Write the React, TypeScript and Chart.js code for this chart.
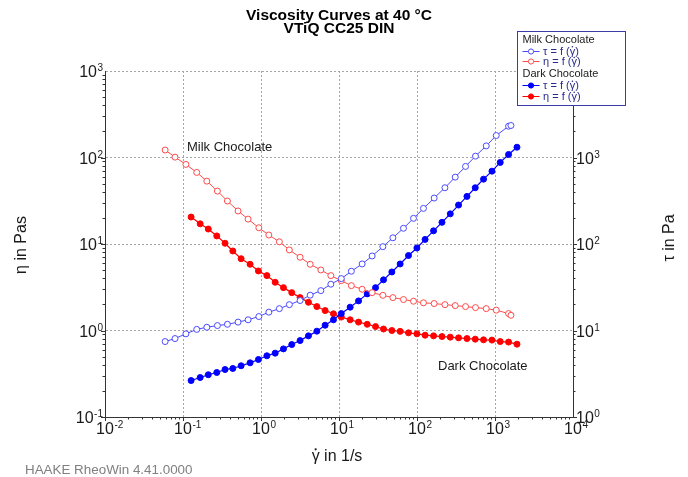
import React, { useEffect, useRef } from "react";
import { Chart, registerables } from "chart.js";

Chart.register(...registerables);

const FONT = '"Liberation Sans", Arial, Helvetica, sans-serif';

// ---- Data ----
const milkShear = [0.059, 0.079, 0.109, 0.150, 0.202, 0.276, 0.371, 0.508, 0.683, 0.938, 1.26, 1.72, 2.31, 3.17, 4.27, 5.85, 7.86, 10.7, 14.4, 19.8, 26.6, 36.5, 49.1, 67.1, 90.2, 121, 166, 228, 309, 419, 562, 772, 1038, 1493, 1602];
const milkTau = [7.45, 8.07, 9.15, 10.3, 10.9, 11.4, 11.8, 12.5, 13.3, 14.5, 16.3, 17.9, 19.9, 22.2, 25.6, 28.9, 34.3, 39.8, 48.4, 58.8, 72.7, 93.1, 118, 152, 198, 258, 340, 447, 593, 788, 1037, 1363, 1795, 2300, 2344];
const milkEta = [122, 101, 83.2, 67.2, 53.3, 40.9, 31.4, 24.1, 19.4, 15.4, 12.7, 10.6, 8.54, 7.03, 5.83, 5.01, 4.31, 3.77, 3.30, 3.00, 2.74, 2.55, 2.40, 2.28, 2.18, 2.09, 2.05, 1.99, 1.94, 1.89, 1.84, 1.79, 1.72, 1.57, 1.50];

const darkShear = [0.127, 0.166, 0.211, 0.271, 0.346, 0.435, 0.556, 0.725, 0.927, 1.19, 1.52, 1.94, 2.48, 3.17, 4.06, 5.20, 6.64, 8.49, 10.7, 13.9, 17.8, 23.0, 29.4, 37.2, 47.6, 60.8, 77.8, 99.7, 127, 163, 209, 267, 341, 437, 558, 713, 914, 1167, 1493, 1913];
const darkTau = [2.64, 2.86, 3.08, 3.27, 3.54, 3.64, 3.91, 4.23, 4.62, 5.10, 5.47, 6.13, 6.88, 7.65, 8.67, 9.82, 11.5, 13.3, 15.7, 18.6, 22.0, 26.5, 31.3, 38.5, 47.5, 58.8, 73.6, 89.9, 113, 142, 178, 223, 282, 355, 447, 562, 695, 877, 1084, 1315];
const darkEta = [20.5, 17.1, 14.9, 12.4, 10.2, 8.30, 6.76, 5.83, 4.88, 4.31, 3.61, 3.13, 2.74, 2.40, 2.12, 1.89, 1.70, 1.56, 1.43, 1.33, 1.25, 1.18, 1.11, 1.04, 1.00, 0.977, 0.940, 0.915, 0.883, 0.867, 0.851, 0.838, 0.822, 0.807, 0.794, 0.780, 0.774, 0.745, 0.735, 0.695];

// Axis decades (tick labels are 10^exp)
const xExps = [-2, -1, 0, 1, 2, 3, 4];
const yLeftExps = [-1, 0, 1, 2, 3];
const yRightExps = [0, 1, 2, 3, 4];

const titleLines = ["Viscosity Curves at 40 \u00B0C", "VTiQ CC25 DIN"];
// gamma is drawn with a dot above it (shear rate symbol)
const xTitle = "\u03B3 in 1/s";
const yLeftTitle = "\u03B7 in Pas";
const yRightTitle = "\u03C4 in Pa";
const footer = "HAAKE RheoWin 4.41.0000";
const legendGroups = ["Milk Chocolate", "Dark Chocolate"];
const legendEntries = ["\u03C4 = f (\u03B3)", "\u03B7 = f (\u03B3)"];

const MILK_BLUE = "#4a4aff";
const MILK_RED = "#ff4a4a";
const DARK_BLUE = "#0000ff";
const DARK_RED = "#ff0000";

const toXY = (xs: number[], ys: number[]) => xs.map((x, i) => ({ x, y: ys[i] }));

function drawPow(ctx: CanvasRenderingContext2D, exp: string, x: number, y: number, align: "center" | "right" | "left") {
  ctx.font = `16px ${FONT}`;
  const w10 = ctx.measureText("10").width;
  ctx.font = `10px ${FONT}`;
  const we = ctx.measureText(exp).width;
  let x0 = x;
  if (align === "center") x0 = x - w10 / 2;
  else if (align === "right") x0 = x - w10 - we - 0.5;
  ctx.textAlign = "left";
  ctx.textBaseline = "alphabetic";
  ctx.font = `16px ${FONT}`;
  ctx.fillText("10", x0, y);
  ctx.font = `10px ${FONT}`;
  ctx.fillText(exp, x0 + w10 + 0.5, y - 6);
}

// text with a dot placed over the gamma (γ̇), baseline alphabetic
function fillGD(ctx: CanvasRenderingContext2D, text: string, x: number, y: number, size: number, align: "left" | "center") {
  ctx.font = `${size}px ${FONT}`;
  const w = ctx.measureText(text).width;
  const x0 = align === "center" ? x - w / 2 : x;
  ctx.textAlign = "left";
  ctx.textBaseline = "alphabetic";
  ctx.fillText(text, x0, y);
  const i = text.indexOf("\u03B3");
  if (i >= 0) {
    const pre = ctx.measureText(text.slice(0, i)).width;
    const gw = ctx.measureText("\u03B3").width;
    ctx.beginPath();
    ctx.arc(x0 + pre + gw / 2, y - size * 0.7, Math.max(0.8, size * 0.07), 0, Math.PI * 2);
    ctx.fill();
  }
}

const decorPlugin = {
  id: "decor",
  afterDraw(chart: any) {
    const ctx: CanvasRenderingContext2D = chart.ctx;
    const area = chart.chartArea;
    const xs = chart.scales.x;
    const yl = chart.scales.y;
    const yr = chart.scales.y1;
    ctx.save();

    // minor ticks
    ctx.strokeStyle = "#333";
    ctx.lineWidth = 1;
    ctx.beginPath();
    for (let e = -2; e < 4; e++) {
      for (let m = 1; m <= 9; m++) {
        const px = Math.round(xs.getPixelForValue(m * Math.pow(10, e))) + 0.5;
        const len = m === 1 ? 4 : 2.5;
        ctx.moveTo(px, area.bottom);
        ctx.lineTo(px, area.bottom + len);
      }
    }
    for (let e = -1; e < 3; e++) {
      for (let m = 1; m <= 9; m++) {
        const py = Math.round(yl.getPixelForValue(m * Math.pow(10, e))) + 0.5;
        const len = m === 1 ? 4 : 2.5;
        ctx.moveTo(area.left, py);
        ctx.lineTo(area.left - len, py);
      }
    }
    for (let e = 0; e < 4; e++) {
      for (let m = 1; m <= 9; m++) {
        const py = Math.round(yr.getPixelForValue(m * Math.pow(10, e))) + 0.5;
        const len = m === 1 ? 4 : 2.5;
        ctx.moveTo(area.right, py);
        ctx.lineTo(area.right + len, py);
      }
    }
    ctx.stroke();

    // tick labels
    ctx.fillStyle = "#1a1a1a";
    xExps.forEach((e) => {
      drawPow(ctx, String(e), xs.getPixelForValue(Math.pow(10, e)), area.bottom + 17, "center");
    });
    yLeftExps.forEach((e) => {
      drawPow(ctx, String(e), area.left - 2, yl.getPixelForValue(Math.pow(10, e)) + 6, "right");
    });
    yRightExps.forEach((e) => {
      drawPow(ctx, String(e), area.right + 3, yr.getPixelForValue(Math.pow(10, e)) + 6, "left");
    });

    // titles
    ctx.fillStyle = "#000";
    ctx.textAlign = "center";
    ctx.textBaseline = "alphabetic";
    ctx.font = `bold 15.5px ${FONT}`;
    ctx.fillText(titleLines[0], 339, 20);
    ctx.fillText(titleLines[1], 339, 32.7);

    ctx.fillStyle = "#1a1a1a";
    fillGD(ctx, xTitle, 337, 460.5, 16, "center");

    ctx.font = `16px ${FONT}`;
    ctx.textAlign = "center";
    ctx.textBaseline = "middle";
    ctx.save();
    ctx.translate(22, 245);
    ctx.rotate(-Math.PI / 2);
    ctx.fillText(yLeftTitle, 0, 0);
    ctx.restore();

    ctx.save();
    ctx.translate(670, 238);
    ctx.rotate(-Math.PI / 2);
    ctx.fillText(yRightTitle, 0, 0);
    ctx.restore();

    // footer
    ctx.textAlign = "left";
    ctx.textBaseline = "alphabetic";
    ctx.fillStyle = "#808080";
    ctx.font = `13.4px ${FONT}`;
    ctx.fillText(footer, 25, 474);

    // annotations
    ctx.fillStyle = "#1a1a1a";
    ctx.font = `13px ${FONT}`;
    ctx.fillText(legendGroups[0], 187, 150.5);
    ctx.fillText(legendGroups[1], 438, 369.5);

    // legend box
    const bx = 517, by = 31, bw = 108, bh = 74;
    ctx.fillStyle = "#fff";
    ctx.fillRect(bx, by, bw, bh);
    ctx.strokeStyle = "#3c3ca8";
    ctx.lineWidth = 1;
    ctx.strokeRect(bx + 0.5, by + 0.5, bw, bh);

    const rows = [
      { type: "h", text: legendGroups[0], y: 38.8 },
      { type: "e", text: legendEntries[0], y: 50.5, color: MILK_BLUE, fill: false },
      { type: "e", text: legendEntries[1], y: 61.2, color: MILK_RED, fill: false },
      { type: "h", text: legendGroups[1], y: 72.7 },
      { type: "e", text: legendEntries[0], y: 85, color: DARK_BLUE, fill: true },
      { type: "e", text: legendEntries[1], y: 96, color: DARK_RED, fill: true },
    ];
    rows.forEach((r: any) => {
      if (r.type === "h") {
        ctx.fillStyle = "#1a1a1a";
        ctx.font = `11px ${FONT}`;
        ctx.textAlign = "left";
        ctx.textBaseline = "alphabetic";
        ctx.fillText(r.text, 522.5, r.y + 4);
      } else {
        ctx.strokeStyle = r.color;
        ctx.lineWidth = 1;
        ctx.beginPath();
        ctx.moveTo(522.5, Math.round(r.y) + 0.5);
        ctx.lineTo(539.5, Math.round(r.y) + 0.5);
        ctx.stroke();
        ctx.beginPath();
        ctx.arc(531, Math.round(r.y) + 0.5, 2.6, 0, Math.PI * 2);
        ctx.fillStyle = r.fill ? r.color : "#fff";
        ctx.fill();
        ctx.stroke();
        ctx.fillStyle = "#2a2a8f";
        fillGD(ctx, r.text, 543, r.y + 4, 11, "left");
      }
    });

    ctx.restore();
  },
};

const decadeTicks = (exps: number[]) => (scale: any) => {
  scale.ticks = exps.map((e) => ({ value: Math.pow(10, e), major: true }));
};

export default function App() {
  const ref = useRef<HTMLCanvasElement | null>(null);

  useEffect(() => {
    document.body.style.margin = "0";
    const canvas = ref.current;
    if (!canvas) return;
    const gridCommon = {
      color: "#a6a6a6",
      lineWidth: 1,
      drawTicks: false,
    };
    const chart = new Chart(canvas, {
      type: "line",
      data: {
        datasets: [
          {
            label: "Milk tau",
            data: toXY(milkShear, milkTau),
            yAxisID: "y1",
            borderColor: MILK_BLUE,
            borderWidth: 1,
            pointRadius: 3,
            pointBackgroundColor: "#fff",
            pointBorderColor: MILK_BLUE,
            pointBorderWidth: 1,
            tension: 0,
          },
          {
            label: "Milk eta",
            data: toXY(milkShear, milkEta),
            yAxisID: "y",
            borderColor: MILK_RED,
            borderWidth: 1,
            pointRadius: 3,
            pointBackgroundColor: "#fff",
            pointBorderColor: MILK_RED,
            pointBorderWidth: 1,
            tension: 0,
          },
          {
            label: "Dark tau",
            data: toXY(darkShear, darkTau),
            yAxisID: "y1",
            borderColor: DARK_BLUE,
            borderWidth: 1.2,
            pointRadius: 3,
            pointBackgroundColor: DARK_BLUE,
            pointBorderColor: DARK_BLUE,
            pointBorderWidth: 1,
            tension: 0,
          },
          {
            label: "Dark eta",
            data: toXY(darkShear, darkEta),
            yAxisID: "y",
            borderColor: DARK_RED,
            borderWidth: 1.2,
            pointRadius: 3,
            pointBackgroundColor: DARK_RED,
            pointBorderColor: DARK_RED,
            pointBorderWidth: 1,
            tension: 0,
          },
        ],
      },
      options: {
        animation: false,
        responsive: false,
        maintainAspectRatio: false,
        events: [],
        layout: { autoPadding: false, padding: { left: 105, right: 115, top: 71, bottom: 60 } },
        plugins: {
          legend: { display: false },
          title: { display: false },
          tooltip: { enabled: false },
        },
        scales: {
          x: {
            type: "logarithmic",
            position: "bottom",
            min: 0.01,
            max: 10000,
            ticks: { display: false },
            grid: gridCommon,
            border: { display: true, color: "#333", width: 1, dash: [2, 2] },
            afterBuildTicks: decadeTicks(xExps),
          },
          y: {
            type: "logarithmic",
            position: "left",
            min: 0.1,
            max: 1000,
            ticks: { display: false },
            grid: gridCommon,
            border: { display: true, color: "#333", width: 1, dash: [2, 2] },
            afterBuildTicks: decadeTicks(yLeftExps),
          },
          y1: {
            type: "logarithmic",
            position: "right",
            min: 1,
            max: 10000,
            ticks: { display: false },
            grid: { display: false, drawTicks: false },
            border: { display: true, color: "#333", width: 1 },
            afterBuildTicks: decadeTicks(yRightExps),
          },
        },
      } as any,
      plugins: [decorPlugin],
    });
    return () => chart.destroy();
  }, []);

  return (
    <canvas ref={ref} width={688} height={477} style={{ display: "block", width: 688, height: 477 }} />
  );
}
